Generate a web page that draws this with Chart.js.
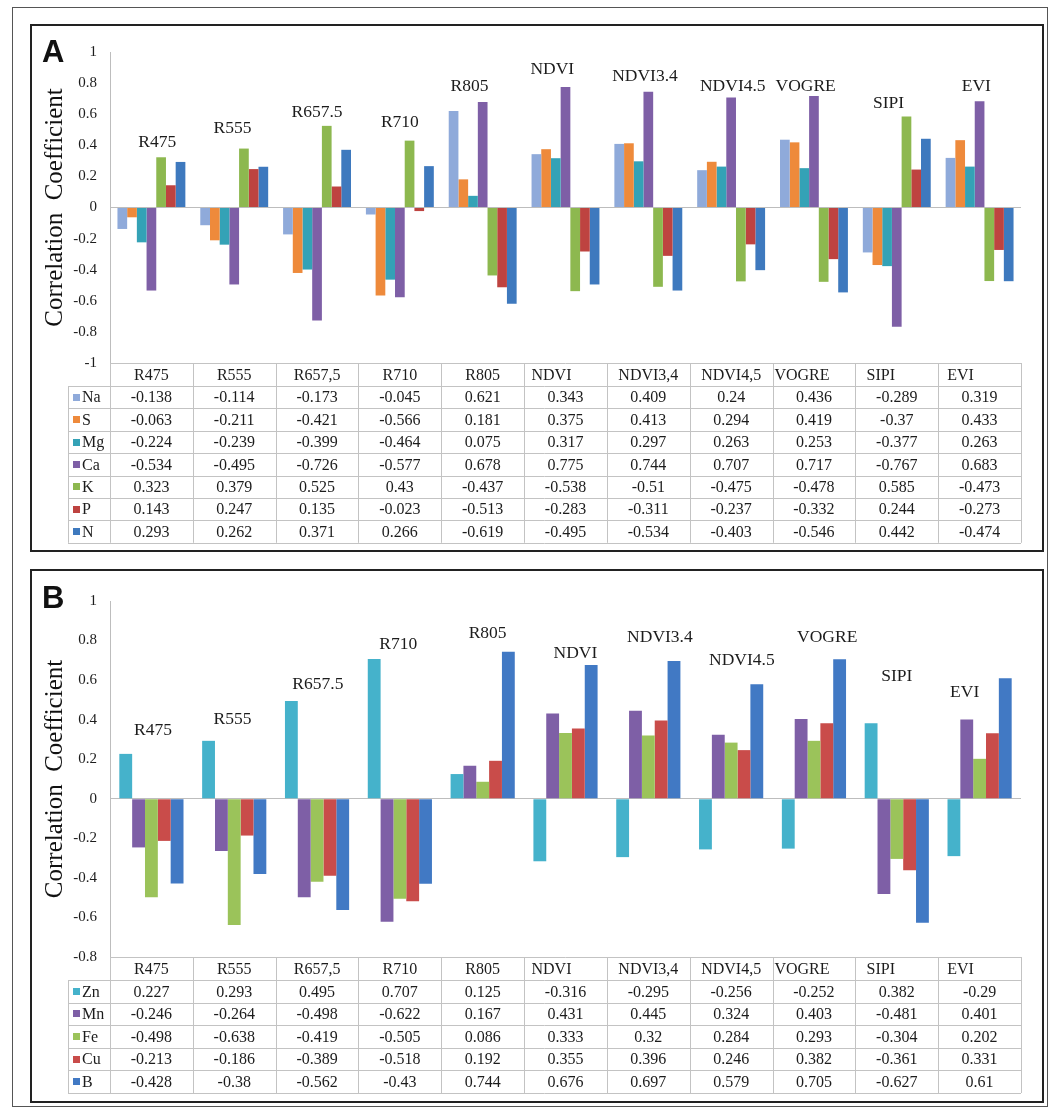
<!DOCTYPE html>
<html>
<head>
<meta charset="utf-8">
<script src="https://cdn.jsdelivr.net/npm/chart.js@4.4.1/dist/chart.umd.min.js"></script>
<style>
  html, body { margin:0; padding:0; background:#fff; }
  body { width:1051px; height:1113px; position:relative; overflow:hidden; }
  .outer { position:absolute; left:12px; top:7px; width:1036px; height:1100px; border:1px solid #555; box-sizing:border-box; }
  .panel { position:absolute; left:30px; width:1010px; border:2px solid #222; background:#fff; }
  .panel canvas { position:absolute; left:0; top:0; }
  .letter { position:absolute; font-family:"Liberation Sans", Arial, sans-serif; font-weight:bold; font-size:31px; color:#111; line-height:1; }
</style>
</head>
<body>
<div class="outer"></div>
<div class="panel" id="pA" style="top:24px;height:524px;"><canvas id="cA" width="1010" height="524"></canvas></div>
<div class="panel" id="pB" style="top:569px;height:530px;"><canvas id="cB" width="1010" height="530"></canvas></div>
<div class="letter" style="left:42px;top:36px;">A</div>
<div class="letter" style="left:42px;top:582px;">B</div>
<script>
// ---------- DATA ----------
const tableLabels = ['R475','R555','R657,5','R710','R805','NDVI','NDVI3,4','NDVI4,5','VOGRE','SIPI','EVI'];
const groupLabels = ['R475','R555','R657.5','R710','R805','NDVI','NDVI3.4','NDVI4.5','VOGRE','SIPI','EVI'];

// Panel A
const seriesNamesA = ['Na','S','Mg','Ca','K','P','N'];
const Na = [-0.138,-0.114,-0.173,-0.045,0.621,0.343,0.409,0.24,0.436,-0.289,0.319];
const S  = [-0.063,-0.211,-0.421,-0.566,0.181,0.375,0.413,0.294,0.419,-0.37,0.433];
const Mg = [-0.224,-0.239,-0.399,-0.464,0.075,0.317,0.297,0.263,0.253,-0.377,0.263];
const Ca = [-0.534,-0.495,-0.726,-0.577,0.678,0.775,0.744,0.707,0.717,-0.767,0.683];
const K  = [0.323,0.379,0.525,0.43,-0.437,-0.538,-0.51,-0.475,-0.478,0.585,-0.473];
const P  = [0.143,0.247,0.135,-0.023,-0.513,-0.283,-0.311,-0.237,-0.332,0.244,-0.273];
const N  = [0.293,0.262,0.371,0.266,-0.619,-0.495,-0.534,-0.403,-0.546,0.442,-0.474];
const yTicksA = [1,0.8,0.6,0.4,0.2,0,-0.2,-0.4,-0.6,-0.8,-1];

// Panel B
const seriesNamesB = ['Zn','Mn','Fe','Cu','B'];
const Zn = [0.227,0.293,0.495,0.707,0.125,-0.316,-0.295,-0.256,-0.252,0.382,-0.29];
const Mn = [-0.246,-0.264,-0.498,-0.622,0.167,0.431,0.445,0.324,0.403,-0.481,0.401];
const Fe = [-0.498,-0.638,-0.419,-0.505,0.086,0.333,0.32,0.284,0.293,-0.304,0.202];
const Cu = [-0.213,-0.186,-0.389,-0.518,0.192,0.355,0.396,0.246,0.382,-0.361,0.331];
const Bo = [-0.428,-0.38,-0.562,-0.43,0.744,0.676,0.697,0.579,0.705,-0.627,0.61];
const yTicksB = [1,0.8,0.6,0.4,0.2,0,-0.2,-0.4,-0.6,-0.8];

// ---------- STYLE / LAYOUT ----------
const SERIF = '"Liberation Serif", "Times New Roman", Times, serif';
const colorsA = ['#8FAADA','#EE8A3B','#34A2B6','#7E5FA6','#8DB84F','#BE4340','#3E79BE'];
const colorsB = ['#45B2CB','#7E5FA6','#9BC35A','#C94C4A','#4179C4'];
// label placement (y in axis units, x shift in fraction of a category)
const labelPosA = { y:[0.42,0.51,0.61,0.55,0.78,0.89,0.84,0.78,0.78,0.67,0.78], dx:[0.07,-0.02,0,0,-0.16,-0.16,-0.04,0.02,-0.1,-0.1,-0.04] };
const labelPosB = { y:[0.344,0.40,0.576,0.78,0.834,0.733,0.814,0.70,0.814,0.62,0.54], dx:[0.02,-0.02,0.01,-0.02,0.06,0.12,0.14,0.13,0.16,0,-0.18] };
const headerShift = [0,0,0,0,0,-14,0,0,-12,-16,-19];

const tablePlugin = {
  id: 'dataTable',
  afterDraw(chart, args, opts) {
    const { ctx, chartArea, scales } = chart;
    const x = scales.x;
    const n = chart.data.labels.length;
    const colW = (chartArea.right - chartArea.left) / n;
    const top = chartArea.bottom;
    const hh = opts.headerH, rh = opts.rowH;
    const ds = chart.data.datasets;
    const bottom = top + hh + ds.length * rh;
    const L = opts.legendLeft, R = chartArea.right;
    const px = v => Math.round(v) + 0.5;
    ctx.save();
    ctx.strokeStyle = '#C3C3C3';
    ctx.lineWidth = 1;
    ctx.beginPath();
    // top line of header (data columns only)
    ctx.moveTo(chartArea.left, px(top)); ctx.lineTo(R, px(top));
    for (let r = 0; r <= ds.length; r++) {
      const yy = px(top + hh + r * rh);
      ctx.moveTo(L, yy); ctx.lineTo(R, yy);
    }
    // verticals
    ctx.moveTo(px(L), top + hh); ctx.lineTo(px(L), bottom);
    for (let i = 0; i <= n; i++) {
      const xx = px(chartArea.left + i * colW);
      ctx.moveTo(xx, top); ctx.lineTo(xx, bottom);
    }
    ctx.stroke();
    // text
    ctx.fillStyle = '#1c1c1c';
    ctx.font = '16px ' + SERIF;
    ctx.textBaseline = 'middle';
    ctx.textAlign = 'center';
    for (let i = 0; i < n; i++) {
      const cx = x.getPixelForValue(i);
      ctx.fillText(opts.headers[i], cx + (opts.headerShift[i] || 0), top + hh / 2 + 1);
      ds.forEach((d, r) => {
        ctx.fillText(String(d.data[i]), cx, top + hh + r * rh + rh / 2 + 1);
      });
    }
    // legend keys
    ctx.textAlign = 'left';
    ds.forEach((d, r) => {
      const cy = top + hh + r * rh + rh / 2;
      ctx.fillStyle = d.backgroundColor;
      ctx.fillRect(L + 5, Math.round(cy - 3.5), 7, 7);
      ctx.fillStyle = '#1c1c1c';
      ctx.fillText(d.label, L + 14, cy + 1);
    });
    ctx.restore();
  }
};

const groupLabelPlugin = {
  id: 'groupLabels',
  afterDatasetsDraw(chart, args, opts) {
    const { ctx, chartArea, scales } = chart;
    const n = chart.data.labels.length;
    const colW = (chartArea.right - chartArea.left) / n;
    ctx.save();
    ctx.fillStyle = '#1c1c1c';
    ctx.font = opts.size + 'px ' + SERIF;
    ctx.textAlign = 'center';
    ctx.textBaseline = 'middle';
    opts.texts.forEach((t, i) => {
      ctx.fillText(t, scales.x.getPixelForValue(i) + opts.pos.dx[i] * colW, scales.y.getPixelForValue(opts.pos.y[i]));
    });
    ctx.restore();
  }
};

function makeChart(canvasId, names, series, colors, yTicks, yMin, yMax, pad, catPct, labelPos, rowH) {
  return new Chart(document.getElementById(canvasId), {
    type: 'bar',
    data: {
      labels: tableLabels,
      datasets: names.map((nm, k) => ({
        label: nm, data: series[k], backgroundColor: colors[k],
        borderWidth: 0, categoryPercentage: catPct, barPercentage: 1.0
      }))
    },
    options: {
      responsive: false, animation: false, devicePixelRatio: 1,
      layout: { padding: pad },
      plugins: {
        legend: { display: false }, tooltip: { enabled: false },
        dataTable: { headers: tableLabels, headerH: 23, rowH: rowH, legendLeft: 36, headerShift: headerShift },
        groupLabels: { texts: groupLabels, pos: labelPos, size: 17.5 }
      },
      scales: {
        x: { display: false },
        y: {
          min: yMin, max: yMax,
          afterBuildTicks: ax => { ax.ticks = yTicks.map(v => ({ value: v })); },
          afterFit: ax => { ax.width = 78; },
          ticks: { padding: 13, color: '#1c1c1c', font: { family: SERIF, size: 15 }, callback: v => String(v) },
          grid: { drawTicks: false, lineWidth: 1, color: c => (c.tick && c.tick.value === 0) ? '#BDBDBD' : 'rgba(0,0,0,0)' },
          border: { display: true, color: '#BDBDBD', width: 1 },
          title: { display: true, text: 'Correlation  Coefficient', color: '#111', font: { family: SERIF, size: 25 }, padding: { top: 8, bottom: 0 } }
        }
      }
    },
    plugins: [tablePlugin, groupLabelPlugin]
  });
}

makeChart('cA', seriesNamesA, [Na,S,Mg,Ca,K,P,N], colorsA, yTicksA, -1, 1,
  { left: 0, right: 21, top: 26, bottom: 187 }, 0.82, labelPosA, 22.4);
makeChart('cB', seriesNamesB, [Zn,Mn,Fe,Cu,Bo], colorsB, yTicksB, -0.8, 1,
  { left: 0, right: 21, top: 30, bottom: 144 }, 0.775, labelPosB, 22.6);
</script>
</body>
</html>
